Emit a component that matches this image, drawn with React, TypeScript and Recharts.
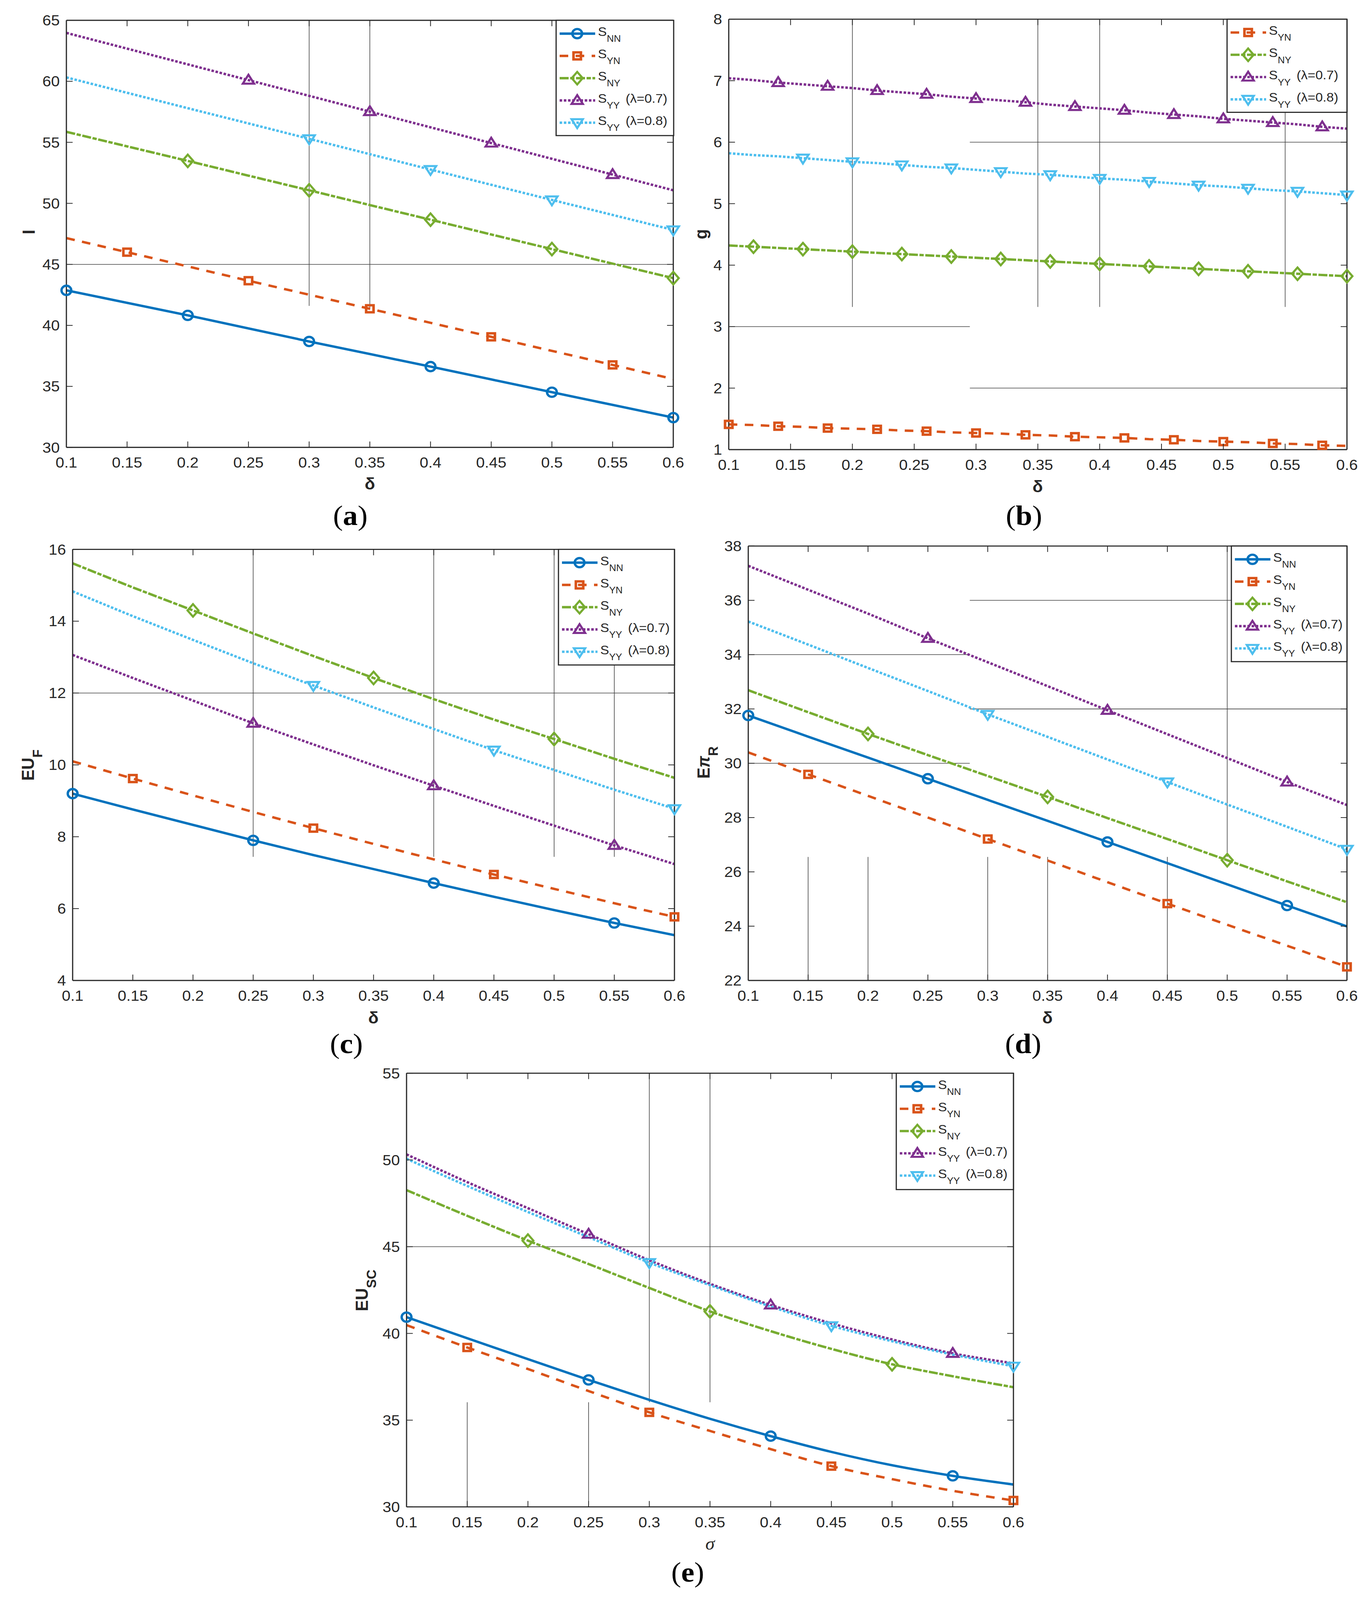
import React from 'react';
import { LineChart, Line, XAxis, YAxis, ReferenceLine } from 'recharts';

const FONT = "'Liberation Sans', Arial, Helvetica, sans-serif";
const SERIF = "'Liberation Serif', 'Times New Roman', serif";
const AX = '#262626';
const PAGE_W = 3508;
const PAGE_H = 4331;

// ---------------- data ----------------
const deltaX = [0.1, 0.15, 0.2, 0.25, 0.3, 0.35, 0.4, 0.45, 0.5, 0.55, 0.6];
const deltaXFine = [0.1, 0.12, 0.14, 0.16, 0.18, 0.2, 0.22, 0.24, 0.26, 0.28, 0.3, 0.32, 0.34, 0.36, 0.38, 0.4, 0.42, 0.44, 0.46, 0.48, 0.5, 0.52, 0.54, 0.56, 0.58, 0.6];
const xTickValues = [0.1, 0.15, 0.2, 0.25, 0.3, 0.35, 0.4, 0.45, 0.5, 0.55, 0.6];

// (a) I
const aNN = [42.87, 41.85, 40.82, 39.75, 38.68, 37.65, 36.62, 35.57, 34.52, 33.48, 32.44];
const aYN = [47.15, 46.0, 44.83, 43.66, 42.51, 41.36, 40.21, 39.06, 37.91, 36.76, 35.6];
const aNY = [55.86, 54.67, 53.48, 52.27, 51.07, 49.86, 48.66, 47.45, 46.25, 45.06, 43.87];
const aYY7 = [63.97, 62.68, 61.39, 60.1, 58.81, 57.52, 56.23, 54.94, 53.65, 52.36, 51.07];
const aYY8 = [60.32, 59.06, 57.8, 56.55, 55.29, 54.03, 52.77, 51.52, 50.28, 49.05, 47.82];
const aYTicks = [30, 35, 40, 45, 50, 55, 60, 65];

// (b) g
const bYN = [1.41, 1.4, 1.38, 1.37, 1.35, 1.34, 1.33, 1.31, 1.3, 1.28, 1.27, 1.26, 1.24, 1.23, 1.21, 1.2, 1.19, 1.17, 1.16, 1.14, 1.13, 1.12, 1.1, 1.09, 1.07, 1.06];
const bNY = [4.32, 4.3, 4.28, 4.26, 4.24, 4.22, 4.2, 4.18, 4.16, 4.14, 4.12, 4.1, 4.08, 4.06, 4.04, 4.02, 4.0, 3.98, 3.96, 3.94, 3.92, 3.9, 3.88, 3.86, 3.84, 3.82];
const bYY7 = [7.04, 7.01, 6.97, 6.94, 6.91, 6.88, 6.84, 6.81, 6.78, 6.74, 6.71, 6.68, 6.65, 6.61, 6.58, 6.55, 6.52, 6.48, 6.45, 6.42, 6.38, 6.35, 6.32, 6.29, 6.25, 6.22];
const bYY8 = [5.82, 5.79, 5.77, 5.74, 5.71, 5.68, 5.66, 5.63, 5.6, 5.58, 5.55, 5.52, 5.49, 5.47, 5.44, 5.41, 5.39, 5.36, 5.33, 5.3, 5.28, 5.25, 5.22, 5.2, 5.17, 5.14];
const bYTicks = [1, 2, 3, 4, 5, 6, 7, 8];

// (c) EU_F
const cNN = [9.2, 8.76, 8.33, 7.9, 7.49, 7.1, 6.71, 6.33, 5.96, 5.6, 5.26];
const cYN = [10.1, 9.62, 9.15, 8.69, 8.24, 7.8, 7.37, 6.95, 6.55, 6.15, 5.77];
const cNY = [15.61, 14.94, 14.3, 13.66, 13.03, 12.42, 11.83, 11.26, 10.72, 10.17, 9.64];
const cYY7 = [13.06, 12.42, 11.79, 11.16, 10.57, 9.99, 9.42, 8.86, 8.31, 7.76, 7.24];
const cYY8 = [14.83, 14.14, 13.48, 12.83, 12.21, 11.6, 11.0, 10.41, 9.86, 9.31, 8.78];
const cYTicks = [4, 6, 8, 10, 12, 14, 16];

// (d) E pi_R
const dNN = [31.76, 30.98, 30.21, 29.43, 28.65, 27.88, 27.1, 26.32, 25.54, 24.76, 23.99];
const dYN = [30.4, 29.59, 28.8, 28.0, 27.21, 26.42, 25.62, 24.83, 24.05, 23.28, 22.5];
const dNY = [32.69, 31.88, 31.08, 30.3, 29.53, 28.76, 27.98, 27.21, 26.43, 25.65, 24.88];
const dYY7 = [37.27, 36.39, 35.51, 34.6, 33.72, 32.84, 31.95, 31.07, 30.19, 29.31, 28.46];
const dYY8 = [35.22, 34.37, 33.51, 32.66, 31.8, 30.97, 30.14, 29.31, 28.48, 27.66, 26.83];
const dYTicks = [22, 24, 26, 28, 30, 32, 34, 36, 38];

// (e) EU_SC
const eNN = [40.94, 39.72, 38.52, 37.32, 36.17, 35.08, 34.08, 33.17, 32.4, 31.79, 31.29];
const eYN = [40.48, 39.19, 37.95, 36.68, 35.45, 34.38, 33.33, 32.35, 31.6, 30.93, 30.37];
const eNY = [48.26, 46.78, 45.35, 44.0, 42.62, 41.27, 40.13, 39.11, 38.22, 37.53, 36.9];
const eYY7 = [50.32, 48.72, 47.22, 45.72, 44.22, 42.86, 41.64, 40.58, 39.65, 38.85, 38.28];
const eYY8 = [50.07, 48.5, 47.0, 45.55, 44.08, 42.78, 41.55, 40.44, 39.55, 38.78, 38.11];
const eYTicks = [30, 35, 40, 45, 50, 55];

// marker positions (x values that carry a marker)
const aMarks = {
  NN: [0.1, 0.2, 0.3, 0.4, 0.5, 0.6],
  YN: [0.15, 0.25, 0.35, 0.45, 0.55],
  NY: [0.2, 0.3, 0.4, 0.5, 0.6],
  YY7: [0.25, 0.35, 0.45, 0.55],
  YY8: [0.3, 0.4, 0.5, 0.6],
};
const bMarks = {
  YN: [0.1, 0.14, 0.18, 0.22, 0.26, 0.3, 0.34, 0.38, 0.42, 0.46, 0.5, 0.54, 0.58],
  NY: [0.12, 0.16, 0.2, 0.24, 0.28, 0.32, 0.36, 0.4, 0.44, 0.48, 0.52, 0.56, 0.6],
  YY7: [0.14, 0.18, 0.22, 0.26, 0.3, 0.34, 0.38, 0.42, 0.46, 0.5, 0.54, 0.58],
  YY8: [0.16, 0.2, 0.24, 0.28, 0.32, 0.36, 0.4, 0.44, 0.48, 0.52, 0.56, 0.6],
};
const cdeMarks = {
  NN: [0.1, 0.25, 0.4, 0.55],
  YN: [0.15, 0.3, 0.45, 0.6],
  NY: [0.2, 0.35, 0.5],
  YY7: [0.25, 0.4, 0.55],
  YY8: [0.3, 0.45, 0.6],
};

// thin stray guide segments visible in the figure: [x1, y1, x2, y2]
const aGuides = [[0.3, 65, 0.3, 41.6], [0.35, 65, 0.35, 41.3], [0.1, 45, 0.6, 45]];
const bGuides = [
  [0.2, 8, 0.2, 3.32], [0.35, 8, 0.35, 3.32], [0.4, 8, 0.4, 3.32], [0.55, 8, 0.55, 3.32],
  [0.295, 6, 0.6, 6], [0.1, 3, 0.295, 3], [0.295, 2, 0.6, 2],
];
const cGuides = [
  [0.25, 16, 0.25, 7.44], [0.4, 16, 0.4, 7.44], [0.5, 16, 0.5, 7.44], [0.55, 16, 0.55, 7.44],
  [0.1, 12, 0.6, 12],
];
const dGuides = [
  [0.285, 36, 0.6, 36], [0.1, 34, 0.285, 34], [0.285, 32, 0.6, 32], [0.1, 30, 0.285, 30],
  [0.5, 38, 0.5, 26.55], [0.15, 22, 0.15, 26.55], [0.2, 22, 0.2, 26.55], [0.3, 22, 0.3, 26.55],
  [0.35, 22, 0.35, 26.55], [0.45, 22, 0.45, 26.55],
];
const eGuides = [
  [0.3, 55, 0.3, 36.03], [0.35, 55, 0.35, 36.03], [0.15, 30, 0.15, 36.03], [0.25, 30, 0.25, 36.03],
  [0.1, 45, 0.6, 45],
];

// ---------------- styling ----------------
type Kind = 'NN' | 'YN' | 'NY' | 'YY7' | 'YY8';
const STYLE: Record<Kind, any> = {
  NN: { color: '#0072BD', dash: undefined, marker: 'circle', sub: 'NN', extra: '' },
  YN: { color: '#D95319', dash: '22 19', marker: 'square', sub: 'YN', extra: '' },
  NY: { color: '#77AC30', dash: '23 4 11 4', marker: 'diamond', sub: 'NY', extra: '' },
  YY7: { color: '#7E2F8E', dash: '6.5 4.2', marker: 'triUp', sub: 'YY', extra: '(λ=0.7)' },
  YY8: { color: '#4DBEEE', dash: '6.5 4.2', marker: 'triDown', sub: 'YY', extra: '(λ=0.8)' },
};

function Marker({ kind, cx, cy, color }: any) {
  switch (kind) {
    case 'circle':
      return <circle cx={cx} cy={cy} r={12.5} fill="none" stroke={color} strokeWidth={6} />;
    case 'square':
      return <rect x={cx - 9.5} y={cy - 9.5} width={19} height={19} fill="none" stroke={color} strokeWidth={6.5} />;
    case 'diamond':
      return <path d={`M${cx} ${cy - 17}L${cx + 14} ${cy}L${cx} ${cy + 17}L${cx - 14} ${cy}Z`} fill="none" stroke={color} strokeWidth={5.5} strokeLinejoin="miter" />;
    case 'triUp':
      return <path d={`M${cx} ${cy - 14.5}L${cx + 14.5} ${cy + 9.5}L${cx - 14.5} ${cy + 9.5}Z`} fill="none" stroke={color} strokeWidth={5.5} strokeLinejoin="miter" />;
    case 'triDown':
      return <path d={`M${cx} ${cy + 14.5}L${cx + 14.5} ${cy - 9.5}L${cx - 14.5} ${cy - 9.5}Z`} fill="none" stroke={color} strokeWidth={5.5} strokeLinejoin="miter" />;
    default:
      return null;
  }
}

function makeDot(kind: Kind, marks: number[]) {
  const s = STYLE[kind];
  return (props: any) => {
    const { cx, cy, payload, index } = props;
    const key = `dot-${kind}-${index}`;
    if (cx == null || cy == null || !payload || !marks.some((m) => Math.abs(m - payload.x) < 1e-6)) {
      return <g key={key} />;
    }
    return (
      <g key={key}>
        <Marker kind={s.marker} cx={cx} cy={cy} color={s.color} />
      </g>
    );
  };
}

function BottomTick(p: any) {
  const { x, y, payload } = p;
  return (
    <g>
      <line x1={x} y1={y} x2={x} y2={y - 16} stroke={AX} strokeWidth={2} />
      <text x={x} y={y + 55} textAnchor="middle" fontFamily={FONT} fontSize={40} fill={AX}>
        {String(payload.value)}
      </text>
    </g>
  );
}
function TopTick(p: any) {
  const { x, y } = p;
  return <line x1={x} y1={y} x2={x} y2={y + 16} stroke={AX} strokeWidth={2} />;
}
function LeftTick(p: any) {
  const { x, y, payload } = p;
  return (
    <g>
      <line x1={x} y1={y} x2={x + 16} y2={y} stroke={AX} strokeWidth={2} />
      <text x={x - 17} y={y + 14} textAnchor="end" fontFamily={FONT} fontSize={40} fill={AX}>
        {String(payload.value)}
      </text>
    </g>
  );
}
function RightTick(p: any) {
  const { x, y } = p;
  return <line x1={x} y1={y} x2={x - 16} y2={y} stroke={AX} strokeWidth={2} />;
}

function LegendBox({ x, y, w, h, keys }: any) {
  return (
    <g>
      <rect x={x} y={y} width={w} height={h} fill="#fff" stroke={AX} strokeWidth={3} />
      {keys.map((k: Kind, i: number) => {
        const s = STYLE[k];
        const cy = y + 36 + i * 60.3;
        return (
          <g key={k}>
            <line x1={x + 9} x2={x + 100} y1={cy} y2={cy} stroke={s.color} strokeWidth={6.5} strokeDasharray={s.dash} />
            <Marker kind={s.marker} cx={x + 54} cy={cy} color={s.color} />
            <text x={x + 107} y={cy + 6.5} fontFamily={FONT} fontSize={34} fill={AX}>
              S
              <tspan dy={16} fontSize={25}>{s.sub}</tspan>
              {s.extra ? (
                <tspan dy={-16} dx={15} fontSize={34}>{s.extra}</tspan>
              ) : null}
            </text>
          </g>
        );
      })}
    </g>
  );
}

function buildRows(xs: number[], cols: Record<string, number[]>) {
  return xs.map((x, i) => {
    const row: any = { x };
    Object.keys(cols).forEach((k) => {
      row[k] = cols[k][i];
    });
    return row;
  });
}

// All geometry given in page coordinates; box = [left, top, width, height] of the panel's drawing area.
function Panel(props: any) {
  const {
    box, plot, data, keys, marks, yTicks, yDomain, guides, legend, yTitle, xTitle, label, curve,
  } = props;
  const [bl, bt, width, height] = box;
  const axisLine = { stroke: AX, strokeWidth: 3 };
  const margin = {
    left: plot[0] - bl - 1,
    top: plot[1] - bt - 1,
    right: bl + width - plot[2] - 1,
    bottom: bt + height - plot[3] - 1,
  };
  return (
    <div style={{ position: 'absolute', left: bl, top: bt, width, height }}>
      <LineChart width={width} height={height} data={data} margin={margin}>
        <XAxis dataKey="x" type="number" domain={[0.1, 0.6]} ticks={xTickValues} interval={0}
          height={1} tickSize={0} tickMargin={0} tickLine={false} axisLine={axisLine} tick={BottomTick} />
        <XAxis xAxisId="top" orientation="top" dataKey="x" type="number" domain={[0.1, 0.6]} ticks={xTickValues}
          interval={0} height={1} tickSize={0} tickMargin={0} tickLine={false} axisLine={axisLine} tick={TopTick} allowDataOverflow />
        <YAxis type="number" domain={yDomain} ticks={yTicks} interval={0} width={1} tickSize={0} tickMargin={0}
          tickLine={false} axisLine={axisLine} tick={LeftTick} />
        <YAxis yAxisId="right" orientation="right" type="number" domain={yDomain} ticks={yTicks} interval={0} width={1}
          tickSize={0} tickMargin={0} tickLine={false} axisLine={axisLine} tick={RightTick} allowDataOverflow />
        {guides.map((g: number[], i: number) => (
          <ReferenceLine key={`g${i}`} segment={[{ x: g[0], y: g[1] }, { x: g[2], y: g[3] }]} stroke="#444" strokeWidth={1.6} />
        ))}
        {keys.map((k: Kind) => (
          <Line key={k} dataKey={k} type={curve || 'linear'} stroke={STYLE[k].color} strokeWidth={6.5}
            strokeDasharray={STYLE[k].dash} dot={makeDot(k, marks[k])} activeDot={false} isAnimationActive={false} />
        ))}
      </LineChart>
      <svg width={width} height={height} style={{ position: 'absolute', left: 0, top: 0, pointerEvents: 'none' }}>
        <g transform={`translate(${-bl},${-bt})`}>
          <LegendBox x={legend[0]} y={legend[1]} w={legend[2]} h={legend[3]} keys={keys} />
          {yTitle}
          {xTitle}
          <text x={label[0]} y={label[1]} textAnchor="middle" fontFamily={SERIF} fontSize={76} fill="#000">
            (<tspan fontWeight="bold">{label[2]}</tspan>)
          </text>
        </g>
      </svg>
    </div>
  );
}

function YTitle({ x, y, children }: any) {
  return (
    <text transform={`translate(${x},${y}) rotate(-90)`} textAnchor="middle" fontFamily={FONT} fontWeight="bold" fontSize={45} fill={AX}>
      {children}
    </text>
  );
}
function DeltaTitle({ x, y }: any) {
  return (
    <text x={x} y={y} textAnchor="middle" fontFamily={FONT} fontWeight="bold" fontSize={44} fill={AX}>δ</text>
  );
}

export default function App() {
  const dataA = buildRows(deltaX, { NN: aNN, YN: aYN, NY: aNY, YY7: aYY7, YY8: aYY8 });
  const dataB = buildRows(deltaXFine, { YN: bYN, NY: bNY, YY7: bYY7, YY8: bYY8 });
  const dataC = buildRows(deltaX, { NN: cNN, YN: cYN, NY: cNY, YY7: cYY7, YY8: cYY8 });
  const dataD = buildRows(deltaX, { NN: dNN, YN: dYN, NY: dNY, YY7: dYY7, YY8: dYY8 });
  const dataE = buildRows(deltaX, { NN: eNN, YN: eYN, NY: eNY, YY7: eYY7, YY8: eYY8 });
  const all: Kind[] = ['NN', 'YN', 'NY', 'YY7', 'YY8'];
  const four: Kind[] = ['YN', 'NY', 'YY7', 'YY8'];

  // fit the whole figure into the visible viewport
  const vw = typeof window !== 'undefined' ? window.innerWidth : PAGE_W;
  const vh = typeof window !== 'undefined' ? window.innerHeight : PAGE_H;
  const sy = Math.min(1, vh / PAGE_H);
  const sx = Math.min(1, vw / PAGE_W);

  return (
    <div style={{
      position: 'absolute', left: 0, top: 0, width: PAGE_W, height: PAGE_H, background: '#fff', overflow: 'hidden',
      transform: `scale(${sx}, ${sy})`, transformOrigin: '0 0',
    }}>
      <Panel
        box={[0, 0, 1754, 1440]}
        plot={[170, 55, 1724, 1211]}
        data={dataA} keys={all} marks={aMarks} yTicks={aYTicks} yDomain={[30, 65]} guides={aGuides}
        legend={[1424, 55, 301, 312]}
        yTitle={<YTitle x={89} y={628}>I</YTitle>}
        xTitle={<DeltaTitle x={947} y={1325} />}
        label={[897, 1421, 'a']}
      />
      <Panel
        box={[1754, 0, 1754, 1440]}
        plot={[1866, 52, 3449, 1217]}
        data={dataB} keys={four} marks={bMarks} yTicks={bYTicks} yDomain={[1, 8]} guides={bGuides}
        legend={[3142, 52, 307, 252]}
        yTitle={<YTitle x={1810} y={634}>g</YTitle>}
        xTitle={<DeltaTitle x={2657} y={1332} />}
        label={[2622, 1421, 'b']}
      />
      <Panel
        box={[0, 1440, 1754, 1440]}
        plot={[186, 1487, 1727, 2654]}
        data={dataC} keys={all} marks={cdeMarks} yTicks={cYTicks} yDomain={[4, 16]} guides={cGuides}
        legend={[1430, 1487, 297, 313]}
        yTitle={<YTitle x={87} y={2071}>EU<tspan dy={21} fontSize={36}>F</tspan></YTitle>}
        xTitle={<DeltaTitle x={956} y={2770} />}
        label={[887, 2851, 'c']}
      />
      <Panel
        box={[1754, 1440, 1754, 1440]}
        plot={[1916, 1478, 3449, 2654]}
        data={dataD} keys={all} marks={cdeMarks} yTicks={dYTicks} yDomain={[22, 38]} guides={dGuides}
        legend={[3153, 1478, 296, 313]}
        yTitle={
          <YTitle x={1817} y={2064}>
            E<tspan fontStyle="italic" fontSize={44}>π</tspan><tspan dy={21} fontSize={36}>R</tspan>
          </YTitle>
        }
        xTitle={<DeltaTitle x={2682} y={2770} />}
        label={[2620, 2851, 'd']}
      />
      <Panel
        box={[877, 2880, 1754, 1451]}
        plot={[1041, 2905, 2595, 4079]}
        data={dataE} keys={all} marks={cdeMarks} yTicks={eYTicks} yDomain={[30, 55]} guides={eGuides}
        legend={[2295, 2905, 300, 315]}
        curve="monotone"
        yTitle={<YTitle x={942} y={3493}>EU<tspan dy={21} fontSize={36}>SC</tspan></YTitle>}
        xTitle={
          <text x={1818} y={4195} textAnchor="middle" fontFamily={SERIF} fontStyle="italic" fontSize={48} fill={AX}>σ</text>
        }
        label={[1761, 4281, 'e']}
      />
    </div>
  );
}
